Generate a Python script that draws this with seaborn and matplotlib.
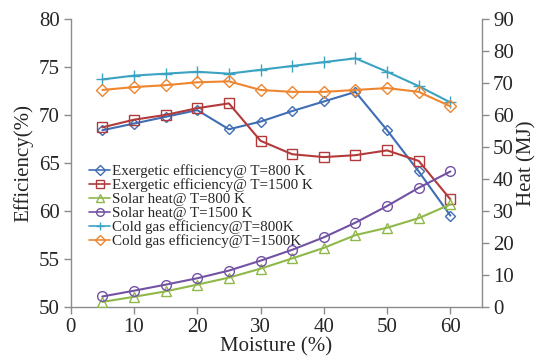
import matplotlib
matplotlib.use("Agg")
import matplotlib.pyplot as plt
import seaborn as sns
import pandas as pd

moisture = [5, 10, 15, 20, 25, 30, 35, 40, 45, 50, 55, 60]
exergetic_800 = [68.4, 69.1, 69.8, 70.5, 68.5, 69.3, 70.4, 71.4, 72.4, 68.4, 64.1, 59.5]
exergetic_1500 = [68.7, 69.5, 70.0, 70.7, 71.2, 67.3, 65.9, 65.6, 65.8, 66.3, 65.2, 61.2]
solar_800 = [1.5, 3.1, 4.8, 6.9, 9.1, 11.9, 15.1, 18.4, 22.4, 24.7, 27.7, 32.0]
solar_1500 = [3.2, 5.0, 6.9, 8.9, 11.3, 14.4, 17.8, 21.7, 26.3, 31.5, 37.2, 42.3]
cold_800 = [73.7, 74.1, 74.3, 74.5, 74.3, 74.7, 75.1, 75.5, 75.9, 74.5, 73.0, 71.3]
cold_1500 = [72.6, 72.9, 73.1, 73.4, 73.5, 72.6, 72.4, 72.4, 72.6, 72.8, 72.4, 70.9]

labels = ["Exergetic efficiency@ T=800 K", "Exergetic efficiency@ T=1500 K",
          "Solar heat@ T=800 K", "Solar heat@ T=1500 K",
          "Cold gas efficiency@T=800K", "Cold gas efficiency@T=1500K"]

sns.set_style("white")
plt.rcParams['font.family'] = ['Liberation Serif', 'DejaVu Serif']
plt.rcParams['mathtext.fontset'] = 'stix'

fig = plt.figure(figsize=(5.46, 3.64), dpi=100)
ax = fig.add_axes([0.1295, 0.1574, 0.8828 - 0.1295, 0.9478 - 0.1574])
ax2 = ax.twinx()

colors = ["#3F6EB5", "#B23A3A", "#8FB84A", "#7352A3", "#3BA3C2", "#EE8630"]
markers = ["D", "s", "^", "o", "+", "D"]
msizes = [5.5, 7, 6.5, 7, 8, 6]
series = [(ax, exergetic_800), (ax, exergetic_1500), (ax2, solar_800),
          (ax2, solar_1500), (ax, cold_800), (ax, cold_1500)]

handles = []
for i, (a, vals) in enumerate(series):
    df = pd.DataFrame({"x": moisture, "y": vals})
    sns.lineplot(data=df, x="x", y="y", ax=a, color=colors[i], marker=markers[i],
                 markersize=msizes[i], markerfacecolor="none",
                 markeredgecolor=colors[i], markeredgewidth=1.0, linewidth=1.5,
                 label=labels[i], legend=False)
    handles.append(a.lines[-1])

ax.set_xlim(0, 65)
ax.set_ylim(50, 80)
ax2.set_ylim(0, 90)
ax.set_xticks(range(0, 61, 10))
ax.set_yticks(range(50, 81, 5))
ax2.set_yticks(range(0, 91, 10))

ax.set_xlabel("Moisture (%)", fontsize=15, labelpad=0)
ax.set_ylabel("Efficiency(%)", fontsize=15, labelpad=4)
ax2.set_ylabel("Heat (MJ)", fontsize=15, rotation=90, labelpad=2)

spine_c = "#8C8C8C"
for a in (ax, ax2):
    for s in a.spines.values():
        s.set_color(spine_c)
        s.set_linewidth(1.0)
    a.spines["top"].set_visible(False)
ax.spines["right"].set_visible(False)
ax2.spines["left"].set_visible(False)
ax2.spines["bottom"].set_visible(False)

ax.tick_params(axis="both", which="major", labelsize=15, length=5, width=1,
               color=spine_c, direction="out", left=True, bottom=True, pad=3)
ax2.tick_params(axis="y", labelsize=15, length=5, width=1, color=spine_c,
                direction="out", right=True, pad=3)

leg = ax.legend(handles, labels, loc="upper left", bbox_to_anchor=(0.03, 0.515),
                frameon=False, fontsize=10.8, handlelength=1.4, handletextpad=0.1,
                labelspacing=0.02, borderaxespad=0)
for h in leg.legend_handles:
    h.set_markersize(5.5)
    h.set_linewidth(1.2)

fig.savefig("out.png", dpi=100)
